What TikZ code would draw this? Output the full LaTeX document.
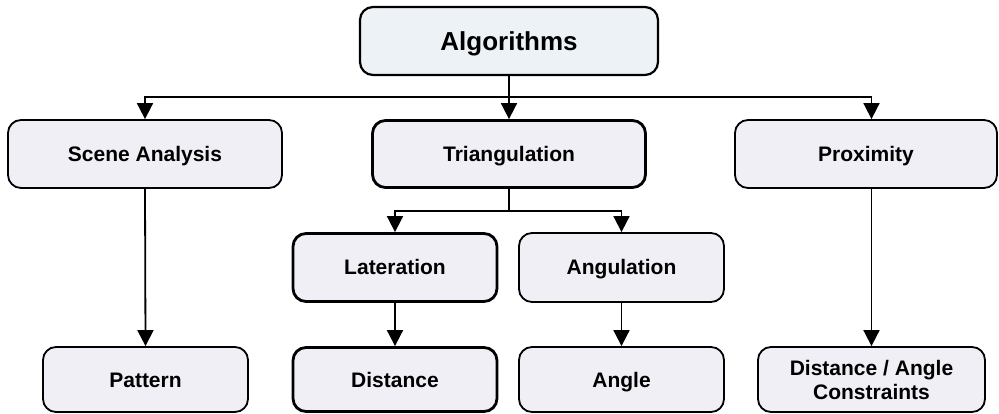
\documentclass[tikz,border=0pt]{standalone}
\usepackage{fontspec}
\setmainfont{Liberation Sans}
\usetikzlibrary{arrows.meta}
\definecolor{boxfill}{RGB}{240,239,245}
\definecolor{topfill}{RGB}{237,242,247}
\begin{document}
\begin{tikzpicture}[x=1pt,y=-1pt,
  box/.style={draw=black, fill=boxfill, rounded corners=13pt, line width=1.8pt,
    inner sep=0pt, align=center, text height=15pt, text depth=0pt,
    font=\fontsize{21}{24}\selectfont\bfseries},
  heavybox/.style={box, line width=2.8pt},
  conn/.style={draw=black, line width=1.8pt},
  arr/.style={conn, -{Triangle[length=16pt 0 0,width=16pt 0 0]}}]
  \useasboundingbox (0,0) rectangle (999,414);

  % root
  \node[box, fill=topfill, line width=2.2pt, minimum width=298pt, minimum height=68pt,
        text height=18.5pt, font=\fontsize{26}{30}\selectfont\bfseries] (alg) at (509,41) {Algorithms};

  % first level
  \node[box, minimum width=274pt, minimum height=68pt] (scene) at (145,154) {Scene Analysis};
  \node[heavybox, minimum width=273pt, minimum height=67pt] (tri) at (509,154) {Triangulation};
  \node[box, minimum width=262pt, minimum height=68pt] (prox) at (866,154) {Proximity};

  % triangulation methods
  \node[heavybox, minimum width=204pt, minimum height=68pt] (lat) at (395,267.5) {Lateration};
  \node[box, minimum width=205pt, minimum height=69pt] (ang) at (621.5,267.5) {Angulation};

  % measured quantities
  \node[box, minimum width=205pt, minimum height=65pt] (pat) at (145.5,379.5) {Pattern};
  \node[heavybox, minimum width=204pt, minimum height=64pt] (dist) at (395,379.5) {Distance};
  \node[box, minimum width=205pt, minimum height=65pt] (angle) at (621.5,379.5) {Angle};
  \node[box, minimum width=227pt, minimum height=65pt, text height=, text depth=]
       (constr) at (871.5,379.5) {Distance / Angle\\Constraints};

  % connectors
  \coordinate (bus) at (509,97);
  \coordinate (tbus) at (509,211);
  \draw[conn] (alg.south) -- (bus);
  \draw[arr] (bus) -| (scene.north);
  \draw[arr] (bus) -- (tri.north);
  \draw[arr] (bus) -| (constr.north |- prox.north);

  \draw[conn] (tri.south) -- (tbus);
  \draw[arr] (tbus) -| (lat.north);
  \draw[arr] (tbus) -| (ang.north);

  \draw[arr] (scene.south) -- (pat.north);
  \draw[arr] (lat.south) -- (dist.north);
  \draw[arr] (ang.south) -- (angle.north);
  \draw[arr] (constr.north |- prox.south) -- (constr.north);
\end{tikzpicture}
\end{document}
